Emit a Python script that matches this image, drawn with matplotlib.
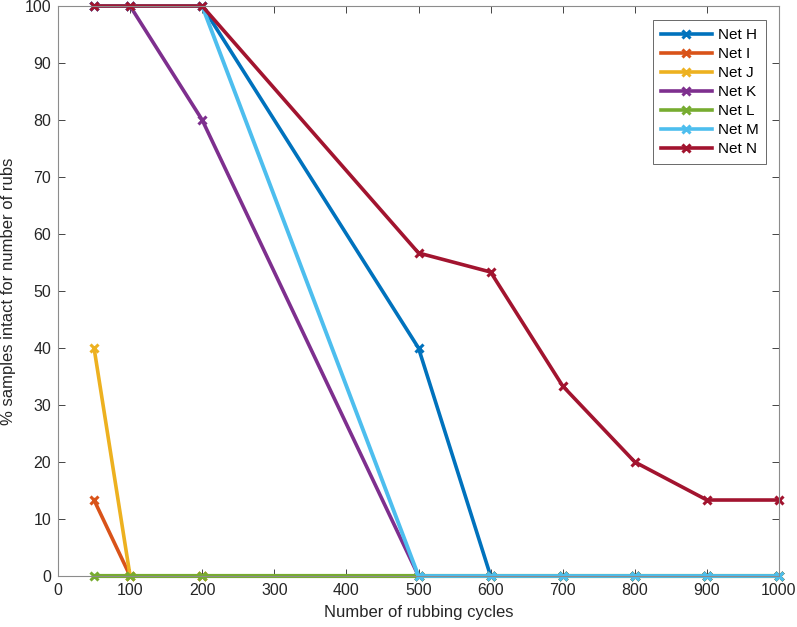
import matplotlib
matplotlib.use("Agg")
import matplotlib.pyplot as plt
import numpy as np

plt.rcParams['font.family'] = ['Liberation Sans', 'DejaVu Sans']

cycles = [50, 100, 200, 500, 600, 700, 800, 900, 1000]
net_h = [100, 100, 100, 40, 0, 0, 0, 0, 0]
net_i = [13.33, 0, 0, 0, 0, 0, 0, 0, 0]
net_j = [40, 0, 0, 0, 0, 0, 0, 0, 0]
net_k = [100, 100, 80, 0, 0, 0, 0, 0, 0]
net_l = [0, 0, 0, 0, 0, 0, 0, 0, 0]
net_m = [100, 100, 100, 0, 0, 0, 0, 0, 0]
net_n = [100, 100, 100, 56.67, 53.33, 33.33, 20, 13.33, 13.33]

series = [("Net H", net_h), ("Net I", net_i), ("Net J", net_j), ("Net K", net_k),
          ("Net L", net_l), ("Net M", net_m), ("Net N", net_n)]
colors = ["#0072BD", "#D95319", "#EDB120", "#7E2F8E", "#77AC30", "#4DBEEE", "#A2142F"]
widths = [2.6, 2.6, 2.6, 2.6, 3.0, 2.8, 2.6]

fig = plt.figure(figsize=(7.97, 6.27), dpi=100)
ax = fig.add_axes([58/797, 1 - 576/627, (779-58)/797, (576-6)/627])

for (name, vals), c, w in zip(series, colors, widths):
    ax.plot(cycles, vals, color=c, lw=w, marker='x', markersize=6, mew=2.2, label=name,
            clip_on=False)

ax.set_xlim(0, 1000)
ax.set_ylim(0, 100)
ax.set_xticks(np.arange(0, 1001, 100))
ax.set_yticks(np.arange(0, 101, 10))
ax.tick_params(direction='in', top=True, right=True, labelsize=11.5, colors='#262626',
               length=5, width=0.6, pad=5)
for sp in ax.spines.values():
    sp.set_color('#8c8c8c')
    sp.set_linewidth(0.8)
ax.set_xlabel("Number of rubbing cycles", fontsize=12, color='#262626', labelpad=5)
ax.set_ylabel("% samples intact for number of rubs", fontsize=12, color='#262626', labelpad=6)

leg = ax.legend(loc='upper right', fontsize=11, frameon=True, fancybox=False,
                edgecolor='#262626', handlelength=3.3, handletextpad=0.4,
                borderpad=0.5, labelspacing=0.33, borderaxespad=0,
                bbox_to_anchor=(0.982, 0.975))
leg.get_frame().set_linewidth(0.6)
for h in leg.get_lines():
    h.set_linewidth(2.6)

fig.savefig("out.png", dpi=100)
